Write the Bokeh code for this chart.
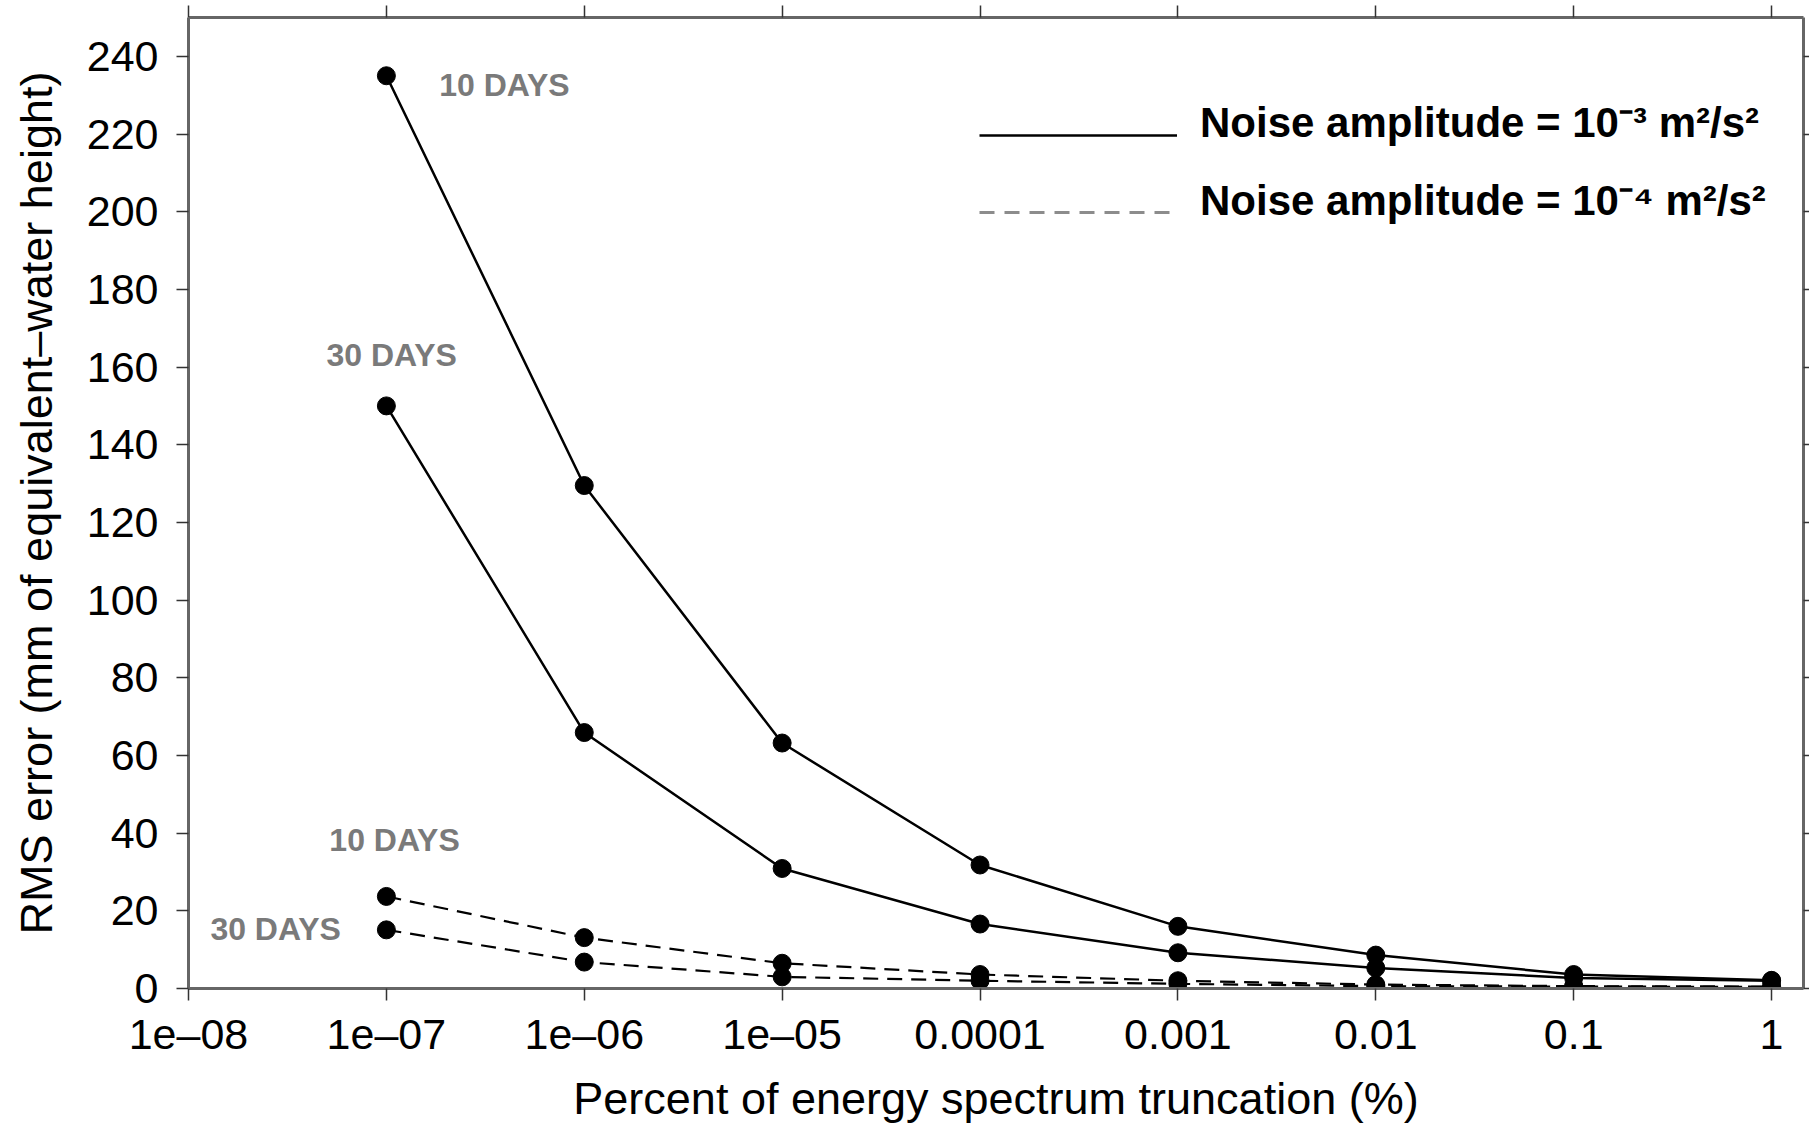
from bokeh.plotting import figure
from bokeh.models import (Range1d, FixedTicker, LogAxis, LinearAxis, Legend,
                          LegendItem, CustomJSTickFormatter)
from bokeh.core.properties import value
from bokeh.embed import file_html
from bokeh.resources import INLINE

# ---------------- data ----------------
truncation_pct = [1e-7, 1e-6, 1e-5, 1e-4, 1e-3, 1e-2, 1e-1, 1.0]
noise3_10days = [235.0, 129.5, 63.2, 31.8, 16.0, 8.6, 3.6, 2.1]
noise3_30days = [150.0, 65.9, 30.9, 16.6, 9.2, 5.3, 2.7, 2.0]
noise4_10days = [23.7, 13.1, 6.5, 3.6, 2.0, 1.0, 0.6, 0.5]
noise4_30days = [15.1, 6.8, 3.0, 2.0, 1.2, 0.6, 0.5, 0.4]

x_ticks = [1e-8, 1e-7, 1e-6, 1e-5, 1e-4, 1e-3, 1e-2, 1e-1, 1.0]
x_tick_labels = ["1e\u201308", "1e\u201307", "1e\u201306", "1e\u201305",
                 "0.0001", "0.001", "0.01", "0.1", "1"]
y_ticks = [0, 20, 40, 60, 80, 100, 120, 140, 160, 180, 200, 220, 240]

annot_text = ["10 DAYS", "30 DAYS", "10 DAYS", "30 DAYS"]
annot_x = [1.85e-7, 4.98e-8, 5.15e-8, 1.29e-8]
annot_y = [232.6, 163.0, 38.3, 15.4]

legend_labels = ["Noise amplitude = 10\u207b\u00b3 m\u00b2/s\u00b2",
                 "Noise amplitude = 10\u207b\u2074 m\u00b2/s\u00b2"]

x_label = "Percent of energy spectrum truncation (%)"
y_label = "RMS error (mm of equivalent\u2013water height)"

# ---------------- figure ----------------
FONT = "Liberation Sans"
AXIS_COLOR = "#666666"

p = figure(width=1809, height=1126, x_axis_type="log",
           x_range=Range1d(1e-8, 1.45), y_range=Range1d(0, 250),
           output_backend="svg", toolbar_location=None,
           min_border_left=188, min_border_right=6,
           min_border_top=17, min_border_bottom=136)
p.xgrid.visible = False
p.ygrid.visible = False
p.outline_line_color = None
p.background_fill_color = "white"

fmt = CustomJSTickFormatter(args=dict(tvals=x_ticks, tlabels=x_tick_labels), code="""
let best = 0, bd = Infinity;
for (let i = 0; i < tvals.length; i++) {
  const d = Math.abs(Math.log10(tvals[i]) - Math.log10(tick));
  if (d < bd) { bd = d; best = i; }
}
return tlabels[best];
""")

xa = p.xaxis[0]
ya = p.yaxis[0]
xa.ticker = FixedTicker(ticks=x_ticks)
xa.formatter = fmt
ya.ticker = FixedTicker(ticks=y_ticks)

for ax in (xa, ya):
    ax.axis_line_color = AXIS_COLOR
    ax.axis_line_width = 3
    ax.major_tick_line_color = "#333333"
    ax.major_tick_line_width = 1.5
    ax.major_tick_in = 0
    ax.major_tick_out = 12
    ax.minor_tick_line_color = None
    ax.major_label_text_font = FONT
    ax.major_label_text_font_size = "43px"
    ax.major_label_text_color = "black"
    ax.axis_label_text_font = FONT
    ax.axis_label_text_font_size = "45px"
    ax.axis_label_text_font_style = "normal"
    ax.axis_label_text_color = "black"

xa.axis_label = x_label
xa.major_label_standoff = 9
xa.axis_label_standoff = 12
ya.axis_label = y_label
ya.major_label_standoff = 18
ya.axis_label_standoff = 22

top = LogAxis(ticker=FixedTicker(ticks=x_ticks))
right = LinearAxis(ticker=FixedTicker(ticks=y_ticks))
for ax, out in ((top, 12), (right, 6)):
    ax.axis_line_color = AXIS_COLOR
    ax.axis_line_width = 3
    ax.major_tick_line_color = "#333333"
    ax.major_tick_line_width = 1.5
    ax.major_tick_in = 0
    ax.major_tick_out = out
    ax.minor_tick_line_color = None
    ax.major_label_text_font_size = "1px"
    ax.major_label_text_alpha = 0
    ax.major_label_standoff = 0
p.add_layout(top, "above")
p.add_layout(right, "right")

# ---------------- series ----------------
for ys in (noise3_10days, noise3_30days):
    p.line(truncation_pct, ys, line_color="black", line_width=2.5)
for ys in (noise4_10days, noise4_30days):
    p.line(truncation_pct, ys, line_color="black", line_width=2.2, line_dash="15 9")
for ys in (noise3_10days, noise3_30days, noise4_10days, noise4_30days):
    p.scatter(truncation_pct, ys, marker="circle", size=18,
              fill_color="black", line_color="black")

p.text(x=annot_x, y=annot_y, text=annot_text, text_font=value(FONT),
       text_font_style="bold", text_font_size="32px", text_color="#7a7a7a",
       text_baseline="middle", text_align="left")

# ---------------- legend ----------------
# sample lines (labels blank) and texts (glyphs invisible) are two legends,
# so that each line sits at the foot of its text as in the original
r_solid = p.line(x=[1e-3], y=[-10], line_color="black", line_width=2.5)
r_dash = p.line(x=[1e-3], y=[-10], line_color="#8c8c8c", line_width=3, line_dash="15 10")
r_none = p.line(x=[1e-3], y=[-10], line_alpha=0)

legend_lines = Legend(items=[LegendItem(label=" ", renderers=[r_solid]),
                             LegendItem(label=" ", renderers=[r_dash])],
                      location=(791, 756), glyph_width=198, glyph_height=40,
                      label_height=40, spacing=37, label_standoff=0, padding=0,
                      margin=0, border_line_color=None, background_fill_alpha=0,
                      label_text_font_size="10px", label_width=1)
legend_text = Legend(items=[LegendItem(label=legend_labels[0], renderers=[r_none]),
                            LegendItem(label=legend_labels[1], renderers=[r_none])],
                     location=(791, 760), glyph_width=198, glyph_height=60,
                     label_height=60, spacing=18, label_standoff=23, padding=0,
                     margin=0, border_line_color=None, background_fill_alpha=0,
                     label_text_font=FONT, label_text_font_style="bold",
                     label_text_font_size="42px", label_text_color="black")
p.add_layout(legend_lines)
p.add_layout(legend_text)

open("out.html", "w").write(file_html(p, INLINE))
